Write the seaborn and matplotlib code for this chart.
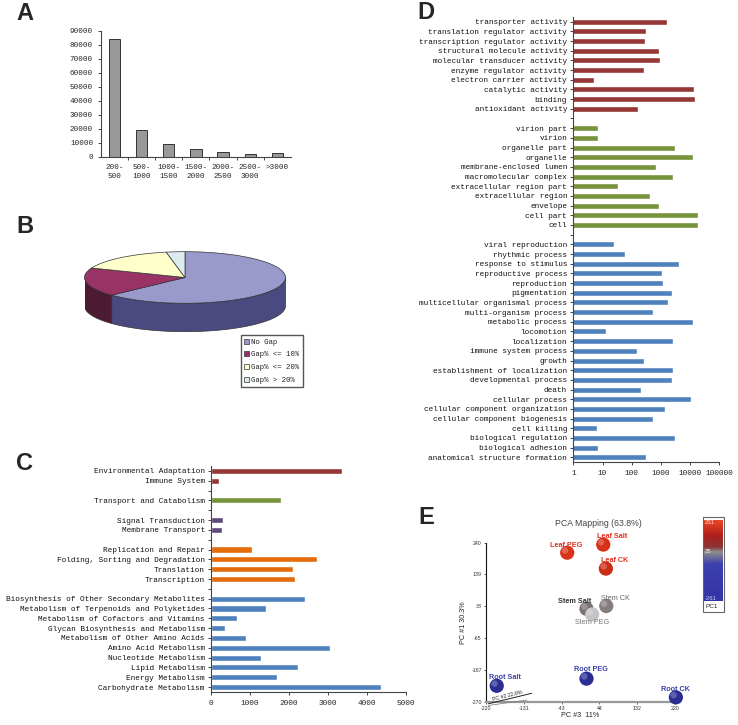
import numpy as np
import pandas as pd
import matplotlib
matplotlib.use("Agg")
import matplotlib.pyplot as plt
import seaborn as sns
from matplotlib.patches import Polygon, Patch, Rectangle
from matplotlib.lines import Line2D
from matplotlib.colors import LinearSegmentedColormap, to_rgb
from matplotlib.ticker import FixedLocator, FixedFormatter, NullLocator
from matplotlib.transforms import offset_copy

# ------------------------------------------------------------------ data
a_bins = ["200-\n500", "500-\n1000", "1000-\n1500", "1500-\n2000",
          "2000-\n2500", "2500-\n3000", ">3000"]
a_counts = [83800, 19000, 9100, 5500, 3100, 1950, 2300]

b_labels = ["No Gap", "Gap% <= 10%", "Gap% <= 20%", "Gap% > 20%"]
b_values = [63, 18, 16, 3]

c_env_adapt = ["Environmental Adaptation", "Immune System"]
c_env_adapt_vals = [3350, 200]
c_cellular = ["Transport and Catabolism"]
c_cellular_vals = [1800]
c_env_info = ["Signal Transduction", "Membrane Transport"]
c_env_info_vals = [310, 270]
c_genetic = ["Replication and Repair", "Folding, Sorting and Degradation",
             "Translation", "Transcription"]
c_genetic_vals = [1050, 2720, 2110, 2160]
c_metab = ["Biosynthesis of Other Secondary Metabolites",
           "Metabolism of Terpenoids and Polyketides",
           "Metabolism of Cofactors and Vitamins",
           "Glycan Biosynthesis and Metabolism",
           "Metabolism of Other Amino Acids",
           "Amino Acid Metabolism", "Nucleotide Metabolism",
           "Lipid Metabolism", "Energy Metabolism", "Carbohydrate Metabolism"]
c_metab_vals = [2400, 1420, 675, 370, 900, 3050, 1280, 2230, 1680, 4360]
c_xticks = [0, 1000, 2000, 3000, 4000, 5000]

d_mf = ["transporter activity", "translation regulator activity",
        "transcription regulator activity", "structural molecule activity",
        "molecular transducer activity", "enzyme regulator activity",
        "electron carrier activity", "catalytic activity", "binding",
        "antioxidant activity"]
d_mf_vals = [1600, 300, 285, 880, 930, 270, 5.2, 13600, 15000, 168]
d_cc = ["virion part", "virion", "organelle part", "organelle",
        "membrane-enclosed lumen", "macromolecular complex",
        "extracellular region part", "extracellular region", "envelope",
        "cell part", "cell"]
d_cc_vals = [7.2, 7.2, 2960, 12300, 660, 2530, 34, 424, 880, 18200, 18200]
d_bp = ["viral reproduction", "rhythmic process", "response to stimulus",
        "reproductive process", "reproduction", "pigmentation",
        "multicellular organismal process", "multi-organism process",
        "metabolic process", "locomotion", "localization",
        "immune system process", "growth", "establishment of localization",
        "developmental process", "death", "cellular process",
        "cellular component organization", "cellular component biogenesis",
        "cell killing", "biological regulation", "biological adhesion",
        "anatomical structure formation"]
d_bp_vals = [24, 59, 4270, 1090, 1150, 2460, 1790, 535, 12300, 13, 2590, 148,
             258, 2590, 2340, 213, 10700, 1380, 535, 6.3, 3100, 7.2, 309]
d_xticks = [1, 10, 100, 1000, 10000, 100000]

e_samples = ["Leaf PEG", "Leaf Salt", "Leaf CK", "Stem Salt", "Stem PEG",
             "Stem CK", "Root Salt", "Root PEG", "Root CK"]
e_pc3 = [-31, 53, 59, 14, 27, 60, -195, 14, 222]
e_pc1 = [208, 234, 157, 28, 10, 37, -219, -196, -256]
e_yticks = [-270, -167, -65, 38, 139, 240]
e_xticks = [-220, -131, -43, 44, 132, 220]
e_cbar_ticks = [231, 25, -261]

# ------------------------------------------------------------------ style
sns.set_style("ticks")
MONO = "Liberation Mono"
SANS = "Liberation Sans"
plt.rcParams["font.family"] = [MONO, "DejaVu Sans"]
plt.rcParams["axes.linewidth"] = 0.8

W, H = 738, 725
fig = plt.figure(figsize=(W / 100, H / 100), dpi=100)
fig.patch.set_facecolor("white")


def rect(l, t, r, b):
    return [l / W, 1 - b / H, (r - l) / W, (b - t) / H]


def fx(x):
    return x / W


def fy(y):
    return 1 - y / H


for letter, (x, y) in {"A": (24.5, 13.5), "B": (25, 226.5), "C": (24.7, 463),
                       "D": (425.5, 12.5), "E": (426.5, 518)}.items():
    fig.text(fx(x), fy(y), letter, fontsize=17, fontweight="bold",
             family=SANS, ha="center", va="center")

# ------------------------------------------------------------------ A
axA = fig.add_axes(rect(100.7, 30.7, 291, 156.7))
dfA = pd.DataFrame({"bin": a_bins, "count": a_counts})
sns.barplot(data=dfA, x="bin", y="count", color="#999999", saturation=1,
            edgecolor="#333333", linewidth=0.7, width=0.42, ax=axA)
axA.set_ylim(0, 90000)
axA.set_xlim(-0.5, len(a_bins) - 0.5)
axA.set_yticks(range(0, 90001, 10000))
axA.set_xlabel("")
axA.set_ylabel("")
axA.xaxis.set_minor_locator(FixedLocator(np.arange(0.5, len(a_bins) - 1, 1)))
axA.tick_params(axis="x", which="major", length=0, pad=5, labelsize=5.5)
axA.tick_params(axis="x", which="minor", length=2.5, width=0.6)
axA.tick_params(axis="y", length=2.5, width=0.6, pad=3, labelsize=5.5)
for lab in axA.get_xticklabels():
    lab.set_linespacing(1.5)
sns.despine(ax=axA)
for s in ("left", "bottom"):
    axA.spines[s].set_color("#444444")

# ------------------------------------------------------------------ B
axB = fig.add_axes(rect(84.5, 240, 285.5, 340))
top_cols = ["#9999CC", "#993366", "#FFFFCC", "#DDEBEF"]
side_cols = ["#4A4A80", "#4D1A33", "#999966", "#7A8A90"]
depth = 1.10
fracs = np.array(b_values, dtype=float) / np.sum(b_values)
cum = np.concatenate([[0], np.cumsum(fracs)])
for i in range(len(b_values)):
    a_start = 90 - 360 * cum[i]
    a_end = 90 - 360 * cum[i + 1]
    lo, hi = max(a_end, -180), min(a_start, 0)
    if hi > lo:
        t = np.radians(np.linspace(lo, hi, 80))
        xs = np.concatenate([np.cos(t), np.cos(t[::-1])])
        ys = np.concatenate([np.sin(t), np.sin(t[::-1]) - depth])
        axB.add_patch(Polygon(np.column_stack([xs, ys]), closed=True,
                              facecolor=side_cols[i], edgecolor="#333333",
                              linewidth=0.5, zorder=1))
axB.pie(b_values, colors=top_cols, startangle=90, counterclock=False,
        radius=1, wedgeprops=dict(edgecolor="#333333", linewidth=0.5,
                                  zorder=2))
axB.set_aspect("auto")
axB.set_xlim(-1, 1)
axB.set_ylim(1.453 - 3.876, 1.453)
axB.axis("off")

handles = [Patch(facecolor=c, edgecolor="#333333", linewidth=0.5)
           for c in top_cols]
fig.legend(handles, b_labels, loc="upper left",
           bbox_to_anchor=(fx(240.7), fy(335.3)), frameon=True,
           fancybox=False, edgecolor="#555555", framealpha=1,
           prop=dict(family=MONO, size=5.3), handlelength=0.7,
           handleheight=0.7, handletextpad=0.3, labelspacing=0.75,
           borderpad=0.45, borderaxespad=0)


# ------------------------------------------------------------------ helpers
def grouped_frame(groups):
    rows, order = [], []
    nblank = 0
    for gi, (gname, labs, vals) in enumerate(groups):
        if gi > 0:
            nblank += 1
            order.append(" " * nblank)
        for l, v in zip(labs, vals):
            rows.append({"label": l, "value": v, "group": gname})
            order.append(l)
    return pd.DataFrame(rows), order


# ------------------------------------------------------------------ C
axC = fig.add_axes(rect(211, 466, 406, 692))
dfC, orderC = grouped_frame([
    ("adapt", c_env_adapt, c_env_adapt_vals),
    ("cell", c_cellular, c_cellular_vals),
    ("envinfo", c_env_info, c_env_info_vals),
    ("genetic", c_genetic, c_genetic_vals),
    ("metab", c_metab, c_metab_vals),
])
palC = {"adapt": "#953735", "cell": "#77933C", "envinfo": "#604A7B",
        "genetic": "#E46C0A", "metab": "#4F81BD"}
sns.barplot(data=dfC, x="value", y="label", hue="group", order=orderC,
            palette=palC, dodge=False, width=0.62, saturation=1,
            orient="h", legend=False, ax=axC)
axC.set_xlim(0, 5000)
axC.set_ylim(len(orderC) - 0.5, -0.5)
axC.set_xticks(c_xticks)
axC.set_xlabel("")
axC.set_ylabel("")
axC.tick_params(axis="y", length=2.5, width=0.6, pad=2, labelsize=5.6,
                labelcolor="#111111")
axC.tick_params(axis="x", length=2.5, width=0.6, pad=3, labelsize=5.6)
sns.despine(ax=axC)
for s in ("left", "bottom"):
    axC.spines[s].set_color("#444444")

# ------------------------------------------------------------------ D
axD = fig.add_axes(rect(573.3, 16.8, 719.3, 462.2))
dfD, orderD = grouped_frame([
    ("mf", d_mf, d_mf_vals),
    ("cc", d_cc, d_cc_vals),
    ("bp", d_bp, d_bp_vals),
])
palD = {"mf": "#953735", "cc": "#77933C", "bp": "#4F81BD"}
sns.barplot(data=dfD, x="value", y="label", hue="group", order=orderD,
            palette=palD, dodge=False, width=0.62, saturation=1,
            orient="h", legend=False, ax=axD)
axD.set_xscale("log")
axD.set_xlim(1, 100000)
axD.set_ylim(len(orderD) - 0.5, -0.5)
axD.xaxis.set_major_locator(FixedLocator(d_xticks))
axD.xaxis.set_major_formatter(FixedFormatter([str(v) for v in d_xticks]))
axD.xaxis.set_minor_locator(NullLocator())
axD.set_xlabel("")
axD.set_ylabel("")
axD.tick_params(axis="y", length=2.5, width=0.6, pad=2, labelsize=5.6,
                labelcolor="#111111")
axD.tick_params(axis="x", length=2.5, width=0.6, pad=3, labelsize=5.6)
sns.despine(ax=axD)
for s in ("left", "bottom"):
    axD.spines[s].set_color("#444444")

# ------------------------------------------------------------------ E
cmap = LinearSegmentedColormap.from_list("pc1", [
    (0.00, "#3434A4"), (0.45, "#3C3FB0"), (0.56, "#7A7A92"),
    (0.60, "#8E8E8E"), (0.66, "#8A3434"), (0.80, "#B01E1E"),
    (1.00, "#F04A26")])

axE = fig.add_axes(rect(486, 542.7, 675, 701.7))
point_cols = ["#D9341A", "#D53018", "#CC2B16", "#7A7272", "#C4C4C8",
              "#857D7D", "#2A2D92", "#2A2D92", "#2A2D92"]
hi_cols = [tuple(0.55 * np.array(to_rgb(c)) + 0.45) for c in point_cols]
label_cols = ["#E0301E", "#E0301E", "#E0301E", "#333333", "#777777",
              "#666666", "#3B3FA8", "#3B3FA8", "#3B3FA8"]
label_weight = ["bold", "bold", "bold", "bold", "normal", "normal",
                "bold", "bold", "bold"]
label_off = [(-1, 5.5), (6.5, 5.8), (6, 5.5), (-8.4, 5.5), (0.3, -5.8),
             (6.5, 5.3), (6.2, 6), (2.9, 6.3), (0, 5.8)]
dfE = pd.DataFrame({"sample": e_samples, "pc3": e_pc3, "pc1": e_pc1})
sns.scatterplot(data=dfE, x="pc3", y="pc1", hue="sample",
                palette=dict(zip(e_samples, point_cols)), s=105,
                edgecolor="none", legend=False, clip_on=False, zorder=3,
                ax=axE)
# soft specular highlight for the sphere look
sns.scatterplot(data=dfE, x="pc3", y="pc1", hue="sample",
                palette=dict(zip(e_samples, hi_cols)), s=22, alpha=0.55,
                edgecolor="none", legend=False, clip_on=False, zorder=3.5,
                transform=offset_copy(axE.transData, fig=fig, x=-1.6, y=1.6,
                                      units="points"),
                ax=axE)
for i, name in enumerate(e_samples):
    axE.annotate(name, (e_pc3[i], e_pc1[i]), xytext=label_off[i],
                 textcoords="offset points", ha="center", va="center",
                 fontsize=5.2, family=SANS, color=label_cols[i],
                 fontweight=label_weight[i], annotation_clip=False,
                 zorder=4)
axE.set_xlim(-220, 220)
axE.set_ylim(-270, 240)
axE.set_xticks(e_xticks)
axE.set_yticks(e_yticks)
axE.set_xticklabels([str(v) for v in e_xticks], family=SANS, fontsize=3.8,
                    color="#333333")
axE.set_yticklabels([str(v) for v in e_yticks], family=SANS, fontsize=3.8,
                    color="#333333")
axE.tick_params(axis="both", length=1.5, width=0.5, pad=1.5)
axE.set_xlabel("PC #3  11%", family=SANS, fontsize=5.2, labelpad=1)
axE.set_ylabel("PC #1 30.3%", family=SANS, fontsize=5.2, labelpad=3)
axE.spines["top"].set_visible(False)
axE.spines["right"].set_visible(False)
axE.spines["left"].set_color("#111111")
axE.spines["bottom"].set_color("#999999")
axE.spines["bottom"].set_linewidth(1.6)
axE.patch.set_alpha(0)

fig.text(fx(598), fy(523), "PCA Mapping (63.8%)", family=SANS, fontsize=6.3,
         color="#444444", ha="center", va="center")
# PC #2 depth axis (decoration of the 3-D frame)
fig.add_artist(Line2D([fx(488.3), fx(531.7)], [fy(703.8), fy(693.3)],
                      color="#222222", linewidth=0.7))
fig.add_artist(Line2D([fx(488.3), fx(527)], [fy(705.5), fy(700)],
                      color="#777777", linewidth=0.5))
fig.text(fx(507), fy(695.5), "PC #2 22.6%", family=SANS, fontsize=3.8,
         rotation=14, ha="center", va="center", color="#222222")

# colour scale
cax = fig.add_axes(rect(704, 519.5, 723, 601))
grad = np.linspace(e_cbar_ticks[0], e_cbar_ticks[-1], 256)[:, None]
cax.imshow(grad, aspect="auto", cmap=cmap, vmin=e_cbar_ticks[-1],
           vmax=e_cbar_ticks[0],
           extent=[0, 1, e_cbar_ticks[-1], e_cbar_ticks[0]])
cax.axis("off")
fig.patches.append(Rectangle((fx(702.7), fy(611.7)), (724.3 - 702.7) / W,
                             (611.7 - 516.7) / H, transform=fig.transFigure,
                             fill=False, edgecolor="#666666", linewidth=0.8))
for v, py, col in zip(e_cbar_ticks, [523, 551.7, 598],
                      ["#FFD8CC", "#EEEEEE", "#C8CCFF"]):
    fig.text(fx(705), fy(py), str(v), family=SANS, fontsize=4.3, color=col,
             ha="left", va="center")
fig.text(fx(705), fy(606.5), "PC1", family=SANS, fontsize=4.6,
         color="#222222", ha="left", va="center")

fig.savefig("out.png", dpi=100, facecolor="white")
